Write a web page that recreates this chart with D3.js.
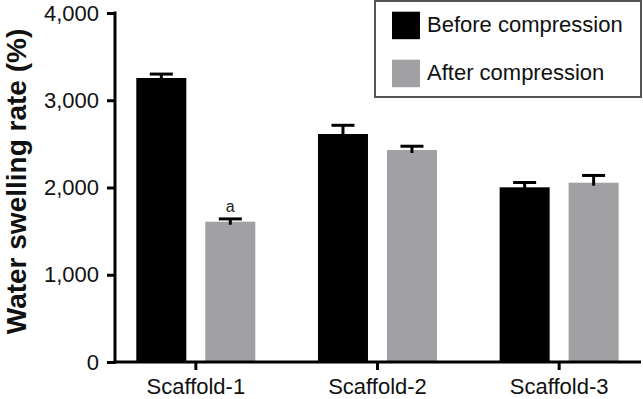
<!DOCTYPE html>
<html>
<head>
<meta charset="utf-8">
<script src="https://cdn.jsdelivr.net/npm/d3@7"></script>
<style>
  html, body { margin: 0; padding: 0; background: #fff; }
  svg { display: block; font-family: "Liberation Sans", Arial, sans-serif; }
</style>
</head>
<body>
<div id="app"></div>
<script>
const categories = ['Scaffold-1', 'Scaffold-2', 'Scaffold-3'];
const seriesNames = ['Before compression', 'After compression'];
const beforeValues = [3255, 2613, 2002];
const beforeErrors = [45, 100, 55];
const afterValues = [1608, 2430, 2055];
const afterErrors = [32, 43, 83];
const yTicks = [0, 1000, 2000, 3000, 4000];
const colors = ['#000000', '#a1a1a4'];

const conf = { width: 643, height: 399, left: 115, bottom: 362, top: 13, right: 641 };

const svg = d3.select('#app').append('svg')
  .attr('width', conf.width)
  .attr('height', conf.height);

const y = d3.scaleLinear()
  .domain([0, 4000])
  .range([conf.bottom, conf.top]);

const x0 = d3.scaleBand()
  .domain(categories)
  .range([105, 650])
  .padding(0);

const x1 = d3.scaleBand()
  .domain(seriesNames)
  .range([31.3, 150.3])
  .paddingInner(0.275)
  .paddingOuter(0);

const rows = categories.map((c, i) => ({
  cat: c,
  vals: [
    { name: seriesNames[0], value: beforeValues[i], err: beforeErrors[i], color: colors[0] },
    { name: seriesNames[1], value: afterValues[i], err: afterErrors[i], color: colors[1] }
  ]
}));

// bars
const groups = svg.append('g').selectAll('g')
  .data(rows)
  .enter()
  .append('g')
  .attr('transform', d => `translate(${x0(d.cat)},0)`);

groups.selectAll('rect')
  .data(d => d.vals)
  .enter()
  .append('rect')
  .attr('x', d => x1(d.name))
  .attr('y', d => y(d.value))
  .attr('width', x1.bandwidth())
  .attr('height', d => y(0) - y(d.value))
  .attr('fill', d => d.color);

// error bars (upper only)
groups.selectAll('g.err')
  .data(d => d.vals)
  .enter()
  .append('g')
  .attr('class', 'err')
  .call(g => {
    g.append('line')
      .attr('x1', d => x1(d.name) + x1.bandwidth() / 2)
      .attr('x2', d => x1(d.name) + x1.bandwidth() / 2)
      .attr('y1', d => y(d.value) + 3)
      .attr('y2', d => y(d.value + d.err))
      .attr('stroke', '#000')
      .attr('stroke-width', 3);
    g.append('line')
      .attr('x1', d => x1(d.name) + x1.bandwidth() / 2 - 11.5)
      .attr('x2', d => x1(d.name) + x1.bandwidth() / 2 + 11.5)
      .attr('y1', d => y(d.value + d.err))
      .attr('y2', d => y(d.value + d.err))
      .attr('stroke', '#000')
      .attr('stroke-width', 3);
  });

// significance mark
svg.append('text')
  .attr('x', x0(categories[0]) + x1(seriesNames[1]) + x1.bandwidth() / 2)
  .attr('y', y(afterValues[0] + afterErrors[0]) - 7)
  .attr('text-anchor', 'middle')
  .style('font-size', '16px')
  .style('fill', '#222')
  .text('a');

// y axis
const yAxis = svg.append('g')
  .attr('transform', `translate(${conf.left},0)`)
  .call(d3.axisLeft(y).tickValues(yTicks).tickFormat(d3.format(',')).tickSize(8).tickSizeOuter(0).tickPadding(8));

yAxis.select('.domain').attr('stroke-width', 3).attr('d', `M0,${conf.top - 1.5}V${conf.bottom + 1.5}`);
yAxis.selectAll('.tick line').attr('stroke-width', 3);
yAxis.selectAll('.tick text')
  .style('font-size', '22px')
  .style('font-family', '"Liberation Sans", Arial, sans-serif')
  .attr('fill', '#111');

// x axis
const xAxis = svg.append('g')
  .attr('transform', `translate(0,${conf.bottom})`)
  .call(d3.axisBottom(x0).tickSize(8).tickSizeOuter(0).tickPadding(8.5));

xAxis.select('.domain').attr('stroke-width', 3).attr('d', `M${conf.left - 1.5},0H${conf.right}`);
xAxis.selectAll('.tick line').attr('stroke-width', 3);
xAxis.selectAll('.tick text')
  .style('font-size', '22px')
  .style('font-family', '"Liberation Sans", Arial, sans-serif')
  .attr('fill', '#111');

// y axis title
svg.append('text')
  .attr('transform', 'translate(25.5,181.5) rotate(-90)')
  .attr('text-anchor', 'middle')
  .style('font-size', '28px')
  .style('font-weight', 'bold')
  .style('fill', '#111')
  .text('Water swelling rate (%)');

// legend
const legend = svg.append('g');
legend.append('rect')
  .attr('x', 375)
  .attr('y', 1)
  .attr('width', 266)
  .attr('height', 96)
  .attr('fill', '#fff')
  .attr('stroke', '#555')
  .attr('stroke-width', 2);

const items = legend.selectAll('g.item')
  .data(seriesNames)
  .enter()
  .append('g')
  .attr('class', 'item')
  .attr('transform', (d, i) => `translate(0,${i * 48})`);

items.append('rect')
  .attr('x', 392)
  .attr('y', 11.7)
  .attr('width', 28)
  .attr('height', 27.5)
  .attr('fill', (d, i) => colors[i]);

items.append('text')
  .attr('x', 427)
  .attr('y', 32)
  .style('font-size', '22px')
  .style('fill', '#111')
  .text(d => d);
</script>
</body>
</html>
